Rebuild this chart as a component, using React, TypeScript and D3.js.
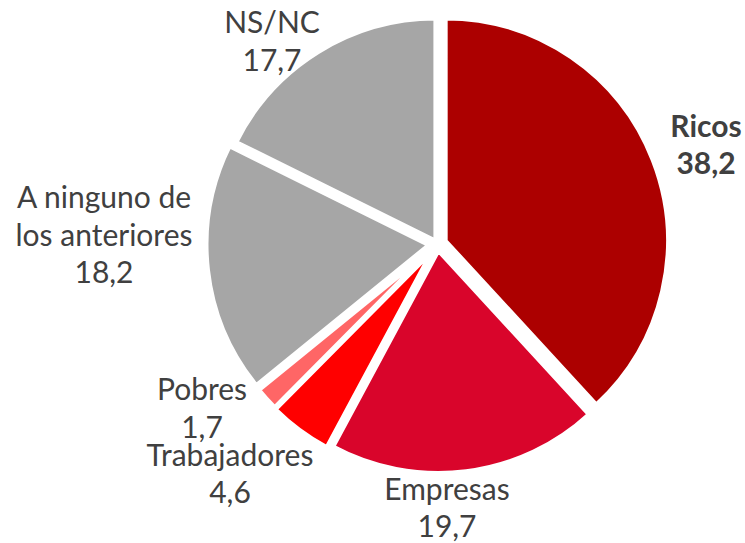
import { useEffect, useRef } from 'react'
import * as d3 from 'd3'

// slices, clockwise from 12 o'clock
const categories = ['Ricos', 'Empresas', 'Trabajadores', 'Pobres', 'A ninguno de los anteriores', 'NS/NC']
const values = [38.2, 19.7, 4.6, 1.7, 18.2, 17.7]
const labelLines = [['Ricos'], ['Empresas'], ['Trabajadores'], ['Pobres'], ['A ninguno de', 'los anteriores'], ['NS/NC']]
const colors = ['#ac0000', '#d9052b', '#ff0000', '#ff6666', '#a6a6a6', '#a6a6a6']

const W = 745
const H = 543
const CX = 437.5
const CY = 244
const R = 222.75
const BORDER = 4.5
const FONT = 'Lato, "Open Sans", sans-serif'
const FONT_SIZE = 30
const LINE_H = 37.5
const CAP_H = 21

// per-slice explosion (px) and label block centres relative to the pie centre
const explode = [8.5, 6.5, 9, 8, 8.5, 3.5]
const labelOffsets: [number, number][] = [
  [268.5, -99],
  [9.5, 264],
  [-207.5, 230],
  [-235.5, 164.5],
  [-333.5, -9],
  [-165.5, -202.5],
]

const esFormat = d3.formatLocale({ decimal: ',', thousands: '.', grouping: [3], currency: ['', ' €'] }).format('.1f')

export default function App() {
  const ref = useRef<SVGSVGElement>(null)

  useEffect(() => {
    if (!ref.current) return
    const svg = d3.select(ref.current)
    svg.selectAll('*').remove()

    const data = categories.map((c, i) => ({ name: c, value: values[i], i }))
    const pie = d3.pie<any>().value((d) => d.value).sort(null)
    const arc = d3.arc<any>().innerRadius(0).outerRadius(R)
    const arcs = pie(data)

    const g = svg.append('g').attr('transform', `translate(${CX},${CY})`)

    g.selectAll('path')
      .data(arcs)
      .join('path')
      .attr('transform', (d) => {
        const mid = (d.startAngle + d.endAngle) / 2
        const e = explode[d.data.i]
        return `translate(${Math.sin(mid) * e},${-Math.cos(mid) * e})`
      })
      .attr('d', arc)
      .attr('fill', (d) => colors[d.data.i])
      .attr('stroke', '#fff')
      .attr('stroke-width', BORDER)
      .attr('stroke-linejoin', 'miter')

    arcs.forEach((d) => {
      const i = d.data.i
      const lines = [...labelLines[i], esFormat(d.data.value)]
      const [ox, oy] = labelOffsets[i]
      const bold = i === 0
      const t = g
        .append('text')
        .attr('text-anchor', 'middle')
        .attr('font-family', FONT)
        .attr('font-size', FONT_SIZE)
        .attr('font-weight', bold ? 700 : 400)
        .attr('fill', '#404040')
      lines.forEach((line, k) => {
        t.append('tspan')
          .attr('x', ox)
          .attr('y', oy + CAP_H / 2 + (k - (lines.length - 1) / 2) * LINE_H)
          .text(line)
      })
    })
  }, [])

  return (
    <svg
      ref={ref}
      width={W}
      height={H}
      style={{ position: 'absolute', left: 0, top: 0, background: '#fff' }}
    />
  )
}
